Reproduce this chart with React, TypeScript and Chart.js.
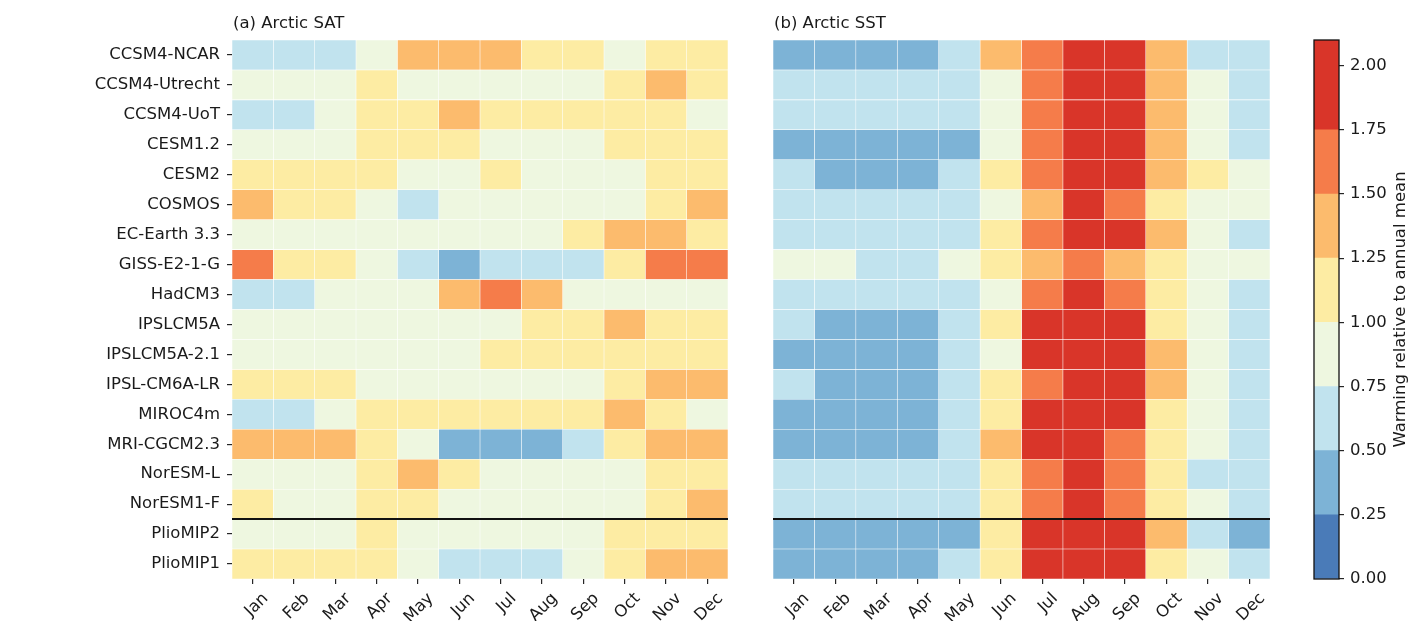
import React, { useEffect, useRef } from "react";
import { Chart, registerables } from "chart.js";

Chart.register(...registerables);

const FONT_FAMILY = "'DejaVu Sans', 'Liberation Sans', sans-serif";
const TEXT_COLOR = "#1a1a1a";
const FONT_SIZE = 16.5;

const MODELS = [
  "CCSM4-NCAR",
  "CCSM4-Utrecht",
  "CCSM4-UoT",
  "CESM1.2",
  "CESM2",
  "COSMOS",
  "EC-Earth 3.3",
  "GISS-E2-1-G",
  "HadCM3",
  "IPSLCM5A",
  "IPSLCM5A-2.1",
  "IPSL-CM6A-LR",
  "MIROC4m",
  "MRI-CGCM2.3",
  "NorESM-L",
  "NorESM1-F",
  "PlioMIP2",
  "PlioMIP1",
];

const MONTHS = ["Jan", "Feb", "Mar", "Apr", "May", "Jun", "Jul", "Aug", "Sep", "Oct", "Nov", "Dec"];

const SEPARATOR_AFTER = "NorESM1-F";

const COLORBAR_TICKS = [0, 0.25, 0.5, 0.75, 1.0, 1.25, 1.5, 1.75, 2.0];
const BIN_EDGES = [0, 0.25, 0.5, 0.75, 1.0, 1.25, 1.5, 1.75, 2.1];
const BIN_COLORS = [
  "#4a7bb8",
  "#7db3d6",
  "#c1e3ee",
  "#eef7e0",
  "#fdeca3",
  "#fcbb6d",
  "#f57c4a",
  "#d93529",
];

const SAT_TITLE = "(a) Arctic SAT";
const SST_TITLE = "(b) Arctic SST";
const COLORBAR_LABEL = "Warming relative to annual mean";

// Rows follow MODELS, columns follow MONTHS
const SAT_VALUES = [
  [0.62, 0.62, 0.62, 0.88, 1.38, 1.38, 1.38, 1.12, 1.12, 0.88, 1.12, 1.12],
  [0.88, 0.88, 0.88, 1.12, 0.88, 0.88, 0.88, 0.88, 0.88, 1.12, 1.38, 1.12],
  [0.62, 0.62, 0.88, 1.12, 1.12, 1.38, 1.12, 1.12, 1.12, 1.12, 1.12, 0.88],
  [0.88, 0.88, 0.88, 1.12, 1.12, 1.12, 0.88, 0.88, 0.88, 1.12, 1.12, 1.12],
  [1.12, 1.12, 1.12, 1.12, 0.88, 0.88, 1.12, 0.88, 0.88, 0.88, 1.12, 1.12],
  [1.38, 1.12, 1.12, 0.88, 0.62, 0.88, 0.88, 0.88, 0.88, 0.88, 1.12, 1.38],
  [0.88, 0.88, 0.88, 0.88, 0.88, 0.88, 0.88, 0.88, 1.12, 1.38, 1.38, 1.12],
  [1.62, 1.12, 1.12, 0.88, 0.62, 0.4, 0.62, 0.62, 0.62, 1.12, 1.62, 1.62],
  [0.62, 0.62, 0.88, 0.88, 0.88, 1.38, 1.62, 1.38, 0.88, 0.88, 0.88, 0.88],
  [0.88, 0.88, 0.88, 0.88, 0.88, 0.88, 0.88, 1.12, 1.12, 1.38, 1.12, 1.12],
  [0.88, 0.88, 0.88, 0.88, 0.88, 0.88, 1.12, 1.12, 1.12, 1.12, 1.12, 1.12],
  [1.12, 1.12, 1.12, 0.88, 0.88, 0.88, 0.88, 0.88, 0.88, 1.12, 1.38, 1.38],
  [0.62, 0.62, 0.88, 1.12, 1.12, 1.12, 1.12, 1.12, 1.12, 1.38, 1.12, 0.88],
  [1.38, 1.38, 1.38, 1.12, 0.88, 0.4, 0.4, 0.4, 0.62, 1.12, 1.38, 1.38],
  [0.88, 0.88, 0.88, 1.12, 1.38, 1.12, 0.88, 0.88, 0.88, 0.88, 1.12, 1.12],
  [1.12, 0.88, 0.88, 1.12, 1.12, 0.88, 0.88, 0.88, 0.88, 0.88, 1.12, 1.38],
  [0.88, 0.88, 0.88, 1.12, 0.88, 0.88, 0.88, 0.88, 0.88, 1.12, 1.12, 1.12],
  [1.12, 1.12, 1.12, 1.12, 0.88, 0.62, 0.62, 0.62, 0.88, 1.12, 1.38, 1.38],
];

const SST_VALUES = [
  [0.4, 0.4, 0.4, 0.4, 0.62, 1.38, 1.62, 1.95, 1.95, 1.38, 0.62, 0.62],
  [0.62, 0.62, 0.62, 0.62, 0.62, 0.88, 1.62, 1.95, 1.95, 1.38, 0.88, 0.62],
  [0.62, 0.62, 0.62, 0.62, 0.62, 0.88, 1.62, 1.95, 1.95, 1.38, 0.88, 0.62],
  [0.4, 0.4, 0.4, 0.4, 0.4, 0.88, 1.62, 1.95, 1.95, 1.38, 0.88, 0.62],
  [0.62, 0.4, 0.4, 0.4, 0.62, 1.12, 1.62, 1.95, 1.95, 1.38, 1.12, 0.88],
  [0.62, 0.62, 0.62, 0.62, 0.62, 0.88, 1.38, 1.95, 1.62, 1.12, 0.88, 0.88],
  [0.62, 0.62, 0.62, 0.62, 0.62, 1.12, 1.62, 1.95, 1.95, 1.38, 0.88, 0.62],
  [0.88, 0.88, 0.62, 0.62, 0.88, 1.12, 1.38, 1.62, 1.38, 1.12, 0.88, 0.88],
  [0.62, 0.62, 0.62, 0.62, 0.62, 0.88, 1.62, 1.95, 1.62, 1.12, 0.88, 0.62],
  [0.62, 0.4, 0.4, 0.4, 0.62, 1.12, 1.95, 1.95, 1.95, 1.12, 0.88, 0.62],
  [0.4, 0.4, 0.4, 0.4, 0.62, 0.88, 1.95, 1.95, 1.95, 1.38, 0.88, 0.62],
  [0.62, 0.4, 0.4, 0.4, 0.62, 1.12, 1.62, 1.95, 1.95, 1.38, 0.88, 0.62],
  [0.4, 0.4, 0.4, 0.4, 0.62, 1.12, 1.95, 1.95, 1.95, 1.12, 0.88, 0.62],
  [0.4, 0.4, 0.4, 0.4, 0.62, 1.38, 1.95, 1.95, 1.62, 1.12, 0.88, 0.62],
  [0.62, 0.62, 0.62, 0.62, 0.62, 1.12, 1.62, 1.95, 1.62, 1.12, 0.62, 0.62],
  [0.62, 0.62, 0.62, 0.62, 0.62, 1.12, 1.62, 1.95, 1.62, 1.12, 0.88, 0.62],
  [0.4, 0.4, 0.4, 0.4, 0.4, 1.12, 1.95, 1.95, 1.95, 1.38, 0.62, 0.4],
  [0.4, 0.4, 0.4, 0.4, 0.62, 1.12, 1.95, 1.95, 1.95, 1.12, 0.88, 0.62],
];

function colorFor(v: number): string {
  for (let k = 0; k < BIN_COLORS.length; k++) {
    if (v < BIN_EDGES[k + 1]) return BIN_COLORS[k];
  }
  return BIN_COLORS[BIN_COLORS.length - 1];
}

const tickFont = { family: FONT_FAMILY, size: FONT_SIZE };

function titlePlugin(text: string) {
  return {
    id: "panelTitle",
    afterDraw(chart: any) {
      const { ctx, chartArea } = chart;
      ctx.save();
      ctx.font = `${FONT_SIZE}px ${FONT_FAMILY}`;
      ctx.fillStyle = TEXT_COLOR;
      ctx.textAlign = "left";
      ctx.textBaseline = "alphabetic";
      ctx.fillText(text, chartArea.left + 1, 28);
      ctx.restore();
    },
  };
}

const separatorPlugin = {
  id: "separator",
  afterDatasetsDraw(chart: any) {
    const { ctx, chartArea, scales } = chart;
    const idx = MODELS.indexOf(SEPARATOR_AFTER);
    const y = (scales.y.getPixelForValue(idx) + scales.y.getPixelForValue(idx + 1)) / 2;
    ctx.save();
    ctx.strokeStyle = "#111";
    ctx.lineWidth = 2;
    ctx.beginPath();
    ctx.moveTo(chartArea.left, y);
    ctx.lineTo(chartArea.right, y);
    ctx.stroke();
    ctx.restore();
  },
};

function Heatmap(props: {
  values: number[][];
  title: string;
  showY: boolean;
  left: number;
  width: number;
  padLeft: number;
  padRight: number;
  yWidth: number;
}) {
  const ref = useRef<HTMLCanvasElement>(null);
  useEffect(() => {
    if (!ref.current) return;
    const { values, title, showY, padLeft, padRight, yWidth } = props;
    const chart = new Chart(ref.current, {
      type: "bar",
      data: {
        labels: MODELS,
        datasets: MONTHS.map((m, j) => ({
          label: m,
          data: MODELS.map(() => [j, j + 1]),
          backgroundColor: MODELS.map((_, i) => colorFor(values[i][j])),
          borderColor: "rgba(255,255,255,0.55)",
          borderWidth: 0.6,
          borderSkipped: false,
          grouped: false,
          barPercentage: 1,
          categoryPercentage: 1,
        })) as any,
      },
      options: {
        indexAxis: "y",
        animation: false,
        responsive: false,
        maintainAspectRatio: false,
        events: [],
        layout: { padding: { top: 40, left: padLeft, right: padRight, bottom: 0 } },
        plugins: {
          legend: { display: false },
          tooltip: { enabled: false },
          title: { display: false },
        },
        scales: {
          x: {
            type: "linear",
            min: 0,
            max: MONTHS.length,
            afterBuildTicks: (s: any) => {
              s.ticks = MONTHS.map((_, j) => ({ value: j + 0.5 }));
            },
            afterFit: (s: any) => {
              s.height = 42;
            },
            ticks: {
              autoSkip: false,
              minRotation: 45,
              maxRotation: 45,
              labelOffset: 13,
              padding: 5,
              font: tickFont,
              color: TEXT_COLOR,
              callback: (_v: any, i: number) => MONTHS[i],
            },
            grid: { drawOnChartArea: false, drawTicks: true, tickLength: 5, color: "#262626", lineWidth: 1.2 },
            border: { display: false },
          },
          y: {
            type: "category",
            display: showY,
            afterFit: (s: any) => {
              s.width = yWidth;
            },
            ticks: { font: tickFont, color: TEXT_COLOR, padding: 7, autoSkip: false },
            grid: {
              drawOnChartArea: false,
              drawTicks: true,
              offset: false,
              tickLength: 5,
              color: "#262626",
              lineWidth: 1.2,
            },
            border: { display: false },
          },
        },
      } as any,
      plugins: [titlePlugin(title), separatorPlugin],
    });
    return () => chart.destroy();
  }, []);
  return (
    <canvas
      ref={ref}
      width={props.width}
      height={621}
      style={{ position: "absolute", left: props.left, top: 0, width: props.width, height: 621 }}
    />
  );
}

const colorbarFramePlugin = {
  id: "cbFrame",
  afterDraw(chart: any) {
    const { ctx, chartArea } = chart;
    ctx.save();
    ctx.strokeStyle = "#111";
    ctx.lineWidth = 1.3;
    ctx.strokeRect(chartArea.left, chartArea.top, chartArea.right - chartArea.left, chartArea.bottom - chartArea.top);
    ctx.font = `${FONT_SIZE}px ${FONT_FAMILY}`;
    ctx.fillStyle = TEXT_COLOR;
    ctx.textAlign = "center";
    ctx.textBaseline = "middle";
    ctx.translate(chart.width - 10, (chartArea.top + chartArea.bottom) / 2);
    ctx.rotate(-Math.PI / 2);
    ctx.fillText(COLORBAR_LABEL, 0, 0);
    ctx.restore();
  },
};

function Colorbar(props: { left: number; width: number }) {
  const ref = useRef<HTMLCanvasElement>(null);
  useEffect(() => {
    if (!ref.current) return;
    const chart = new Chart(ref.current, {
      type: "bar",
      data: {
        labels: [""],
        datasets: BIN_COLORS.map((c, k) => ({
          data: [[BIN_EDGES[k], BIN_EDGES[k + 1]]],
          backgroundColor: c,
          borderWidth: 0,
          grouped: false,
          barPercentage: 1,
          categoryPercentage: 1,
        })) as any,
      },
      options: {
        animation: false,
        responsive: false,
        maintainAspectRatio: false,
        events: [],
        layout: { padding: { top: 40, left: 24, right: 0, bottom: 42 } },
        plugins: {
          legend: { display: false },
          tooltip: { enabled: false },
        },
        scales: {
          x: { display: false },
          y: {
            position: "right",
            min: BIN_EDGES[0],
            max: BIN_EDGES[BIN_EDGES.length - 1],
            afterBuildTicks: (s: any) => {
              s.ticks = COLORBAR_TICKS.map((v) => ({ value: v }));
            },
            afterFit: (s: any) => {
              s.width = 72;
            },
            ticks: {
              font: tickFont,
              color: TEXT_COLOR,
              padding: 6,
              callback: (v: any) => Number(v).toFixed(2),
            },
            grid: { drawOnChartArea: false, drawTicks: true, tickLength: 5, color: "#262626", lineWidth: 1.2 },
            border: { display: false },
          },
        },
      } as any,
      plugins: [colorbarFramePlugin],
    });
    return () => chart.destroy();
  }, []);
  return (
    <canvas
      ref={ref}
      width={props.width}
      height={621}
      style={{ position: "absolute", left: props.left, top: 0, width: props.width, height: 621 }}
    />
  );
}

export default function App() {
  return (
    <div style={{ position: "absolute", left: 0, top: 0, width: 1411, height: 621, background: "#fff", overflow: "hidden" }}>
      <Heatmap values={SAT_VALUES} title={SAT_TITLE} showY={true} left={0} width={750} padLeft={0} padRight={22} yWidth={232} />
      <Heatmap values={SST_VALUES} title={SST_TITLE} showY={false} left={745} width={545} padLeft={28} padRight={20} yWidth={0} />
      <Colorbar left={1290} width={121} />
    </div>
  );
}
